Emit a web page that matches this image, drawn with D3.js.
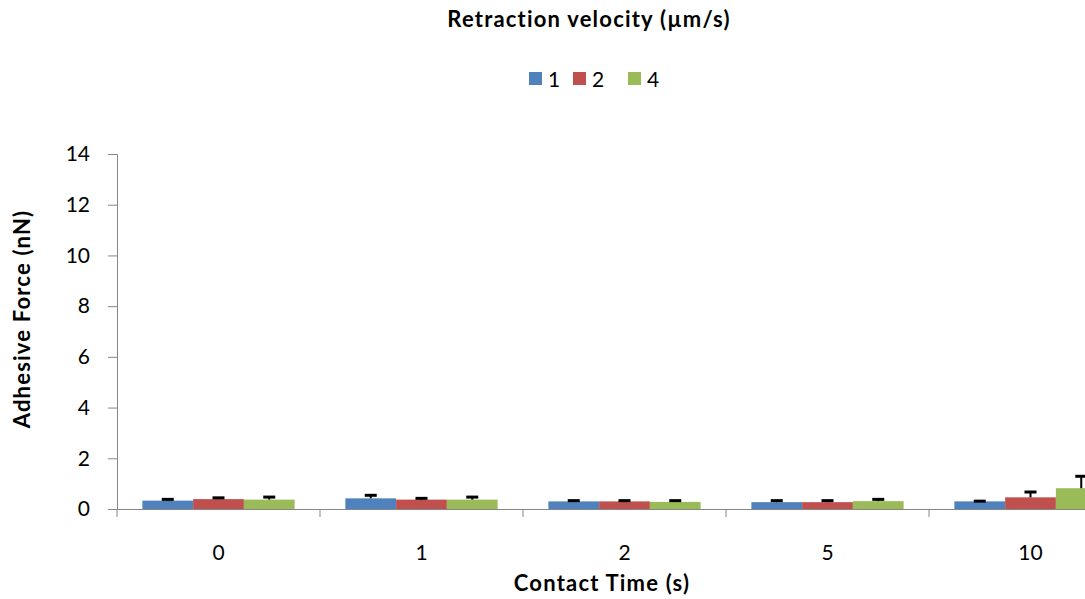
<!DOCTYPE html>
<html>
<head>
<meta charset="utf-8">
<script src="https://cdn.jsdelivr.net/npm/d3@7"></script>
<style>
  html, body { margin: 0; padding: 0; background: #fff; overflow: hidden; }
  svg { display: block; font-family: Lato, "Open Sans", sans-serif; }
</style>
</head>
<body>
<svg id="chart" width="1085" height="599"></svg>
<script>
// Contact times (categories along the x axis)
const categories = ["0", "1", "2", "5", "10"];
// Retraction velocities (series)
const seriesNames = ["1", "2", "4"];
const seriesColors = ["#4F81BD", "#C0504D", "#9BBB59"];
// Mean adhesive force (nN) per series
const force1 = [0.33, 0.42, 0.30, 0.27, 0.30];
const force2 = [0.39, 0.37, 0.30, 0.27, 0.46];
const force4 = [0.37, 0.37, 0.28, 0.31, 0.82];
// Upper error (nN) per series
const err1 = [0.05, 0.12, 0.03, 0.06, 0.01];
const err2 = [0.05, 0.05, 0.03, 0.06, 0.21];
const err4 = [0.10, 0.10, 0.05, 0.07, 0.47];
// Y axis ticks
const yTicks = [0, 2, 4, 6, 8, 10, 12, 14];

const series = [
  { name: seriesNames[0], values: force1, errors: err1, color: seriesColors[0] },
  { name: seriesNames[1], values: force2, errors: err2, color: seriesColors[1] },
  { name: seriesNames[2], values: force4, errors: err4, color: seriesColors[2] }
];

const svg = d3.select("#chart");
const plotLeft = 117, plotTop = 154, plotBottom = 509;
const catWidth = 203;
const plotRight = plotLeft + catWidth * categories.length; // plot runs past the view

const x = d3.scaleBand().domain(categories).range([plotLeft, plotRight]);
// gap between groups equals one bar width: 4 bar widths per category
const inner = d3.scaleBand().domain(seriesNames)
  .range([x.bandwidth() / 8, x.bandwidth() * 7 / 8]);
const y = d3.scaleLinear().domain([0, 14]).range([plotBottom, plotTop]);

const axisColor = "#868686";
const labelFont = "21px";

// Y axis
const yAxis = svg.append("g")
  .attr("transform", `translate(${plotLeft},0)`)
  .call(d3.axisLeft(y).tickValues(yTicks).tickSize(9).tickPadding(18).tickFormat(d3.format("d")));
yAxis.select(".domain").attr("stroke", axisColor);
yAxis.selectAll(".tick line").attr("stroke", axisColor);
yAxis.selectAll(".tick text").attr("fill", "#000").style("font-size", labelFont)
  .style("font-family", "Lato, sans-serif");

// Bars
const groups = svg.append("g").selectAll("g")
  .data(series).join("g").attr("fill", d => d.color);
groups.selectAll("rect")
  .data(d => d.values.map((v, i) => ({ cat: categories[i], v, s: d.name })))
  .join("rect")
  .attr("x", d => x(d.cat) + inner(d.s))
  .attr("width", inner.bandwidth())
  .attr("y", d => y(d.v))
  .attr("height", d => y(0) - y(d.v));

// Error bars (upper only)
const errG = svg.append("g").attr("stroke", "#000");
series.forEach(s => {
  s.values.forEach((v, i) => {
    const cx = x(categories[i]) + inner(s.name) + inner.bandwidth() / 2;
    const y0 = y(v), y1 = y(v + s.errors[i]);
    errG.append("line").attr("x1", cx).attr("x2", cx).attr("y1", y0).attr("y2", y1).attr("stroke-width", 2);
    errG.append("line").attr("x1", cx - 6).attr("x2", cx + 6).attr("y1", y1).attr("y2", y1).attr("stroke-width", 3);
  });
});

// X axis
const xAxis = svg.append("g")
  .attr("transform", `translate(0,${plotBottom})`)
  .call(d3.axisBottom(x).tickSize(0).tickPadding(36));
xAxis.select(".domain").attr("stroke", axisColor);
xAxis.selectAll(".tick text").attr("fill", "#000").style("font-size", labelFont)
  .style("font-family", "Lato, sans-serif");
// Category boundary ticks
svg.append("g").selectAll("line")
  .data(categories)
  .join("line")
  .attr("x1", d => x(d)).attr("x2", d => x(d))
  .attr("y1", plotBottom).attr("y2", plotBottom + 8)
  .attr("stroke", axisColor);

// Axis titles
const titleStyle = sel => sel
  .attr("text-anchor", "middle")
  .style("font-size", "22px").style("font-weight", "bold")
  .style("letter-spacing", "1.2px");
svg.append("text")
  .attr("x", 602).attr("y", 591)
  .call(titleStyle)
  .text("Contact Time (s)");
svg.append("text")
  .attr("transform", "translate(30,319) rotate(-90)")
  .call(titleStyle)
  .text("Adhesive Force (nN)");

// Legend title and entries
svg.append("text")
  .attr("x", 589).attr("y", 27)
  .call(titleStyle)
  .text("Retraction velocity (µm/s)");
const legendX = [529, 573, 628];
const legend = svg.append("g").selectAll("g")
  .data(series).join("g")
  .attr("transform", (d, i) => `translate(${legendX[i]},72)`);
legend.append("rect").attr("width", 13).attr("height", 13).attr("fill", d => d.color);
legend.append("text").attr("x", 19).attr("y", 15)
  .style("font-size", labelFont).text(d => d.name);
</script>
</body>
</html>
